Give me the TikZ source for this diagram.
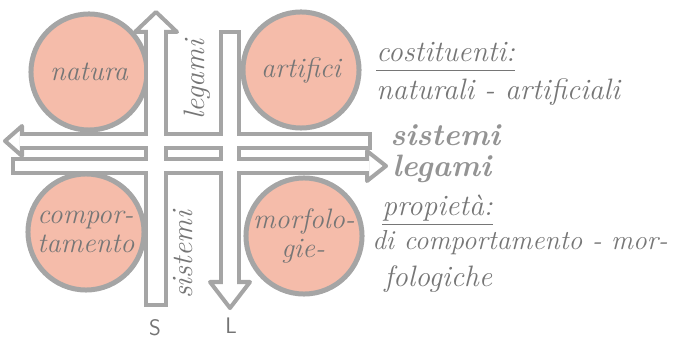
\documentclass[tikz,border=0pt]{standalone}
\usepackage{fontspec}
\usepackage{tikz}
\usetikzlibrary{positioning}
\definecolor{wallgray}{RGB}{165,165,165}
\definecolor{salmon}{RGB}{245,188,170}
\definecolor{inkgray}{RGB}{118,118,118}
\newcommand\handfont{\itshape\addfontfeatures{LetterSpace=8}}

\begin{document}
\begin{tikzpicture}[x=0.025cm, y=-0.025cm,
  blob/.style={circle, draw=wallgray, line width=0.125cm, fill=salmon,
    minimum size=2.9cm, inner sep=0pt, align=left, text=inkgray,
    font=\handfont\fontsize{20}{20}\selectfont},
  hand/.style={text=inkgray, inner sep=0pt, font=\handfont\fontsize{21}{20}\selectfont},
  marker/.style={text=wallgray!90!black, inner sep=0pt,
    font=\bfseries\itshape\fontsize{22}{22}\selectfont},
  letter/.style={text=wallgray!70!black, inner sep=0pt, font=\sffamily\fontsize{16}{16}\selectfont},
  head/.style={draw=wallgray, fill=white, line width=0.1cm, line join=round},
  wall/.style={draw=wallgray, line width=#1},
  lane/.style={draw=white, line width=#1}]
\useasboundingbox (0,0) rectangle (690,340);

% the four circles
\node[blob] (natura) at (89,72) {natura};
\node[blob] (artif) at (301,70) {artifici};
\node[blob] (comport) at (86,232) {compor-\\tamento};
\node[blob] (morfo) at (304,236) {morfolo-\\\quad gie-};

% corridors of the cross
\coordinate (sBot) at (156,307); \coordinate (sTop) at (156,32);
\coordinate (lTop) at (230,30);  \coordinate (lEnd) at (230,282);
\coordinate (uEnd) at (372,141); \coordinate (uTip) at (22,141);
\coordinate (dBeg) at (11,166);  \coordinate (dTip) at (367,166);

\draw[wall=0.6cm] (sBot) -- (sTop);
\draw[wall=0.55cm] (lTop) -- (lEnd);
\draw[wall=0.45cm] (uEnd) -- (uTip);
\draw[wall=0.45cm] (dBeg) -- (dTip);

\draw[head] (135,32) -- (156,12) -- (177,32) -- cycle;
\draw[head] (210,282) -- (230,308) -- (250,282) -- cycle;
\draw[head] (22,126) -- (5,141) -- (22,156) -- cycle;
\draw[head] (367,151) -- (386,166) -- (367,181) -- cycle;

\draw[lane=0.4cm] ([yshift=0.1cm]sBot) -- ([yshift=0.075cm]sTop);
\draw[lane=0.35cm] ([yshift=-0.1cm]lTop) -- ([yshift=-0.075cm]lEnd);
\draw[lane=0.25cm] ([xshift=-0.1cm]uEnd) -- ([xshift=-0.05cm]uTip);
\draw[lane=0.25cm] ([xshift=0.1cm]dBeg) -- ([xshift=0.05cm]dTip);

% words along the arrows
\node[hand, rotate=90] (legV) at (197,80) {legami};
\node[hand, rotate=90] (sistV) at (183,255) {sistemi};
\node[letter] (S) at (155,328) {S};
\node[letter] (L) at (231,326) {L};

% notes on the right
\node[hand, anchor=base west] (cost) at (376,62) {costituenti:};
\draw[inkgray, line width=0.7pt] ([yshift=-6pt]cost.base west) -- ([yshift=-6pt]cost.base east);
\node[hand, anchor=base west] (natart) at (376,100) {naturali - artificiali};
\node[marker, anchor=base west] (sist) at (390,146) {sistemi};
\node[marker, anchor=base west] (leg) at (392,177) {legami};
\node[hand, anchor=base west] (prop) at (382,216) {propietà:};
\draw[inkgray, line width=0.7pt] ([yshift=-6pt]prop.base west) -- ([yshift=-6pt]prop.base east);
\node[hand, anchor=base west, font=\handfont\fontsize{19.5}{20}\selectfont] (dicomp) at (372,250) {di comportamento - mor-};
\node[hand, anchor=base west] (folog) at (384,286) {fologiche};
\end{tikzpicture}
\end{document}
